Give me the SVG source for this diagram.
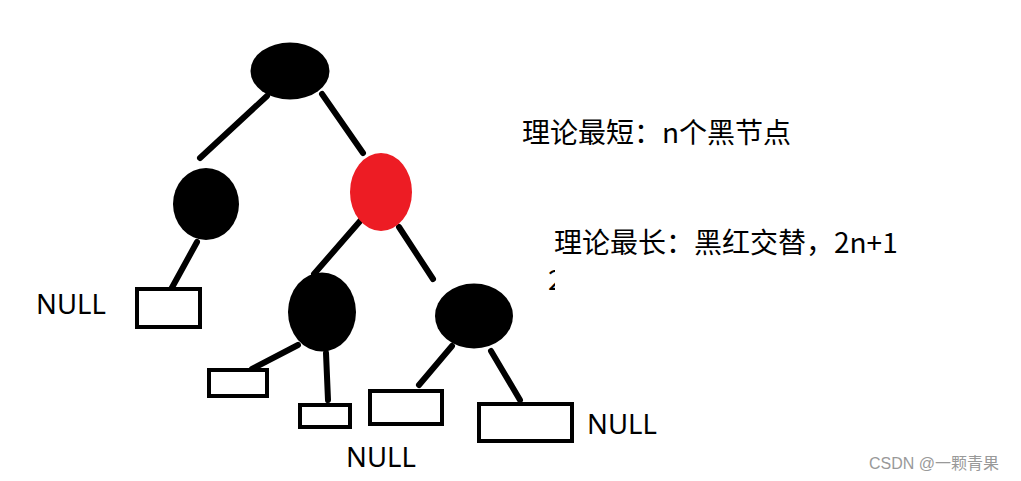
<svg xmlns="http://www.w3.org/2000/svg" width="1021" height="481" viewBox="0 0 1021 481">
<style>
.edge{stroke:#000;stroke-width:6;stroke-linecap:round;fill:none}
.blk{fill:#000}
.red{fill:#ED1C24}
.box{fill:#fff;stroke:#000;stroke-width:4}
.lbl{font-family:"Noto Sans","Open Sans","Noto Sans CJK SC",sans-serif;font-size:27.5px;fill:#000}
.cn{font-family:"Noto Sans CJK SC","Noto Sans",sans-serif;font-size:28px;fill:#000}
.wm{font-family:"Liberation Sans","Noto Sans CJK SC",sans-serif;font-size:16px;fill:#999}
</style>
<defs>
<clipPath id="cut"><rect x="545" y="264" width="10" height="27"/></clipPath>
</defs>
<rect width="1021" height="481" fill="#fff"/>
<g id="connectors">
<line class="edge" x1="267" y1="96" x2="200" y2="158"/>
<line class="edge" x1="322" y1="94" x2="363" y2="153"/>
<line class="edge" x1="197" y1="242" x2="169" y2="293"/>
<line class="edge" x1="361" y1="220" x2="314" y2="274"/>
<line class="edge" x1="399" y1="227" x2="433" y2="279"/>
<line class="edge" x1="298" y1="345" x2="252" y2="369"/>
<line class="edge" x1="326" y1="353" x2="328" y2="400"/>
<line class="edge" x1="452" y1="346" x2="419" y2="385"/>
<line class="edge" x1="491" y1="351" x2="520" y2="400"/>
</g>
<g id="root"><ellipse class="blk" cx="290" cy="71" rx="39.5" ry="28.5"/></g>
<g id="left-black"><ellipse class="blk" cx="206" cy="204" rx="33" ry="36"/></g>
<g id="red"><ellipse class="red" cx="381" cy="192" rx="31" ry="39"/></g>
<g id="mid-black"><ellipse class="blk" cx="322" cy="312" rx="34" ry="39.5"/></g>
<g id="right-black"><ellipse class="blk" cx="474" cy="316" rx="39" ry="32.5"/></g>
<g id="null1"><rect class="box" x="137" y="289" width="63" height="38"/></g>
<g id="null2"><rect class="box" x="209" y="370" width="58" height="26"/></g>
<g id="null3"><rect class="box" x="300" y="405" width="50" height="22"/></g>
<g id="null4"><rect class="box" x="370" y="391" width="72" height="33"/></g>
<g id="null5"><rect class="box" x="479" y="404" width="93" height="37"/></g>
<g id="labels">
<text class="lbl" x="36" y="314">NULL</text>
<text class="lbl" x="587" y="434">NULL</text>
<text class="lbl" x="346" y="467">NULL</text>
<text class="cn" x="522" y="143">理论最短：n个黑节点</text>
<text class="cn" x="554" y="253">理论最长：黑红交替，2n+1</text>
<text class="cn" x="548" y="290" clip-path="url(#cut)">2</text>
<text class="wm" x="869" y="469">CSDN @一颗青果</text>
</g>
</svg>
